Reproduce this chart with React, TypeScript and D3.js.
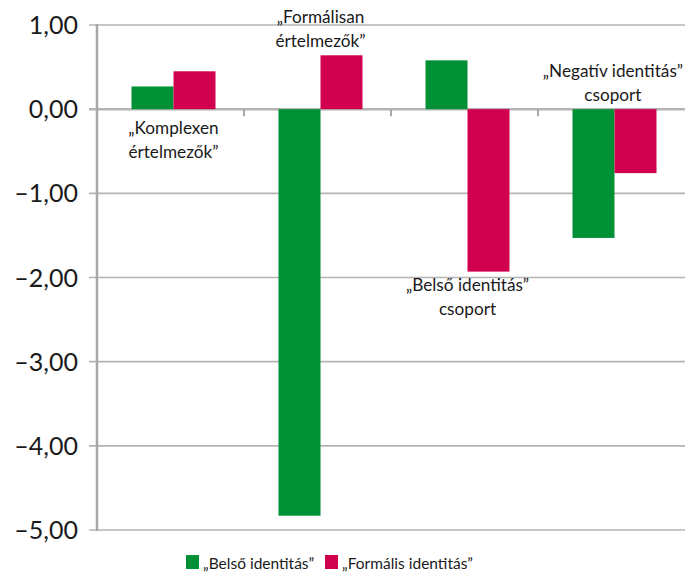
import { useEffect, useRef } from 'react'
import { select, scaleBand, scaleLinear, range } from 'd3'

// categories and the two series
const categories = ['komplex', 'formalis', 'belso', 'negativ']
const categoryLabels = [
  ['„Komplexen', 'értelmezők”'],
  ['„Formálisan', 'értelmezők”'],
  ['„Belső identitás”', 'csoport'],
  ['„Negatív identitás”', 'csoport'],
]
const seriesNames = ['„Belső identitás”', '„Formális identitás”']
const belsoValues = [0.27, -4.83, 0.58, -1.53]
const formalisValues = [0.45, 0.64, -1.93, -0.76]
const yTicks = [1, 0, -1, -2, -3, -4, -5]
const colors = ['#009036', '#d0004f']

const W = 685
const H = 572

const App = () => {
  const svgRef = useRef(null)

  useEffect(() => {
    const svg = select(svgRef.current)
    svg.selectAll('*').remove()

    const left = 97
    const right = 685
    const font = 'Lato, "Open Sans", sans-serif'

    const y = scaleLinear().domain([-5, 1]).range([530, 25])
    const x0 = scaleBand<string>().domain(categories).range([left, right]).padding(0)
    const x1 = scaleBand<string>()
      .domain(['0', '1'])
      .range([(x0.bandwidth() - 84) / 2 + 3, (x0.bandwidth() + 84) / 2 + 3])
      .padding(0)

    // gridlines
    svg
      .append('g')
      .selectAll('line')
      .data(yTicks)
      .join('line')
      .attr('x1', left - 8)
      .attr('x2', right)
      .attr('y1', (d) => y(d))
      .attr('y2', (d) => y(d))
      .attr('stroke', '#b4b4b4')
      .attr('stroke-width', (d) => (d === 0 ? 2.5 : 1.6))

    // y tick labels
    svg
      .append('g')
      .selectAll('text')
      .data(yTicks)
      .join('text')
      .attr('x', 78)
      .attr('y', (d) => y(d) + 9)
      .attr('text-anchor', 'end')
      .attr('font-family', font)
      .attr('font-size', 25)
      .attr('fill', '#1a1a1a')
      .text((d) => (d < 0 ? '–' : '') + Math.abs(d).toFixed(2).replace('.', ','))

    // bars
    const series = [belsoValues, formalisValues]
    series.forEach((vals, si) => {
      svg
        .append('g')
        .selectAll('rect')
        .data(vals)
        .join('rect')
        .attr('x', (_, i) => x0(categories[i])! + x1(String(si))!)
        .attr('width', x1.bandwidth())
        .attr('y', (d) => y(Math.max(0, d)))
        .attr('height', (d) => Math.abs(y(d) - y(0)))
        .attr('fill', colors[si])
    })

    // y axis line
    svg
      .append('line')
      .attr('x1', left)
      .attr('x2', left)
      .attr('y1', y(1) - 1)
      .attr('y2', y(-5) + 1)
      .attr('stroke', '#a8a8a8')
      .attr('stroke-width', 2.5)

    // category ticks on zero line
    svg
      .append('g')
      .selectAll('line')
      .data(range(1, categories.length))
      .join('line')
      .attr('x1', (i) => x0(categories[i])!)
      .attr('x2', (i) => x0(categories[i])!)
      .attr('y1', y(0))
      .attr('y2', y(0) + 7)
      .attr('stroke', '#a8a8a8')
      .attr('stroke-width', 2)

    // category annotations
    const labelY = [
      [128, 152],
      [17, 41],
      [285, 309],
      [71, 95],
    ]
    categoryLabels.forEach((lines, i) => {
      const cx = x0(categories[i])! + x0.bandwidth() / 2 + 3
      const t = svg
        .append('text')
        .attr('text-anchor', 'middle')
        .attr('font-family', font)
        .attr('font-size', 17.2)
        .attr('fill', '#1a1a1a')
      t.selectAll('tspan')
        .data(lines)
        .join('tspan')
        .attr('x', cx)
        .attr('y', (_, k) => labelY[i][k] + 6)
        .text((d) => d)
      // keep the text inside the picture
      const box = (t.node() as SVGTextElement).getBBox()
      const over = box.x + box.width - (W - 2)
      if (over > 0) t.selectAll('tspan').attr('x', cx - over)
    })

    // legend
    const legendX = [186, 325]
    seriesNames.forEach((name, si) => {
      svg
        .append('rect')
        .attr('x', legendX[si])
        .attr('y', 555)
        .attr('width', 13)
        .attr('height', 14)
        .attr('fill', colors[si])
      svg
        .append('text')
        .attr('x', legendX[si] + 17)
        .attr('y', 569)
        .attr('font-family', font)
        .attr('font-size', 15.5)
        .attr('fill', '#1a1a1a')
        .text(name)
    })
  }, [])

  return (
    <svg
      ref={svgRef}
      width={W}
      height={H}
      style={{ position: 'absolute', left: 0, top: 0, background: '#fff' }}
    />
  )
}

export default App
